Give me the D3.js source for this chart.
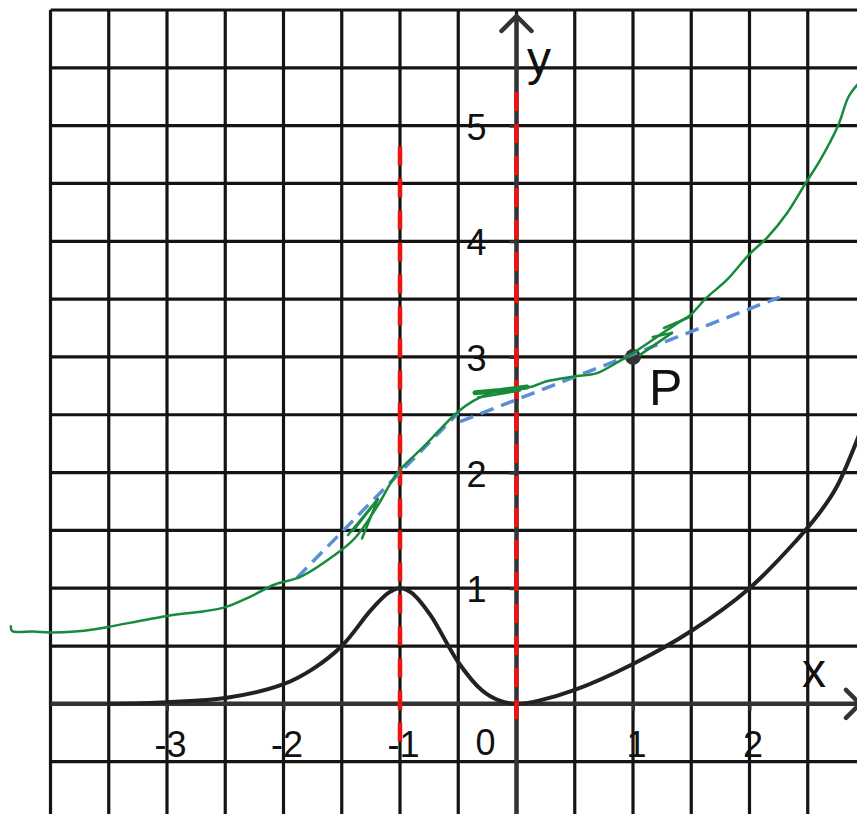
<!DOCTYPE html>
<html>
<head>
<meta charset="utf-8">
<script src="https://cdn.jsdelivr.net/npm/d3@7"></script>
<style>
  body { margin: 0; background: #fff; }
  svg { display: block; font-family: 'Liberation Sans', Arial, sans-serif; }
</style>
</head>
<body>
<svg width="857" height="814"></svg>
<script>
// values
const xTicks = [-3, -2, -1, 1, 2];
const yTicks = [1, 2, 3, 4, 5];

const blackCurve = [
  [-3.5, 0.0], [-3.0, 0.015], [-2.5, 0.05], [-2.0, 0.17], [-1.75, 0.3], [-1.5, 0.5],
  [-1.25, 0.81], [-1.1, 0.96], [-1.0, 1.0], [-0.9, 0.96], [-0.74, 0.77], [-0.5, 0.36],
  [-0.3, 0.12], [-0.15, 0.03], [0, 0], [0.2, 0.03], [0.5, 0.12], [1.0, 0.345],
  [1.5, 0.63], [2.0, 1.0], [2.4, 1.41], [2.6, 1.65], [2.75, 1.88], [2.95, 2.35]
];

const greenCurve = [
  [-4.34, 0.67], [-4.33, 0.63], [-4.15, 0.625], [-4.0, 0.617], [-3.79, 0.625], [-3.62, 0.645],
  [-3.48, 0.67], [-3.0, 0.76], [-2.52, 0.83], [-2.28, 0.93], [-2.08, 1.03], [-1.85, 1.1],
  [-1.57, 1.28], [-1.39, 1.43], [-1.2, 1.7], [-1.02, 2.0], [-0.79, 2.23], [-0.51, 2.52],
  [-0.37, 2.62], [-0.19, 2.70], [-0.02, 2.73], [0.12, 2.74], [0.26, 2.79], [0.49, 2.83],
  [0.69, 2.86], [0.86, 2.95], [0.98, 3.02], [1.26, 3.21], [1.41, 3.31], [1.49, 3.36],
  [1.63, 3.51], [1.81, 3.67], [2.0, 3.89], [2.15, 4.03], [2.32, 4.24], [2.48, 4.5],
  [2.605, 4.70], [2.76, 5.0], [2.85, 5.25], [2.93, 5.36]
];

// little hand-drawn arrow strokes along the green curve
const greenMarks = [
  [[-1.446, 1.46], [-1.19, 1.77]],
  [[-1.40, 1.50], [-1.19, 1.77]],
  [[-1.326, 1.43], [-1.19, 1.77]],
  [[-0.356, 2.69], [-0.142, 2.71], [0.09, 2.74]],
  [[-0.33, 2.65], [0.03, 2.71]],
  [[1.06, 3.018], [1.335, 3.208]],
  [[1.17, 3.173], [1.335, 3.208]],
  [[1.266, 3.25], [1.49, 3.346]]
];

const tangentLeft = [[-1.884, 1.09], [-0.5, 2.515]];
const tangentRight = [[-0.485, 2.44], [2.26, 3.518]];

const redLineX = [-1, 0];
const redLineTop = [4.82, 5.29];
const redLineBottom = [-0.4, -0.14];

const pointP = [1, 3];

let svg = d3.select('svg');
const W = +svg.attr('width'), H = +svg.attr('height');

let x = d3.scaleLinear().domain([-4, 3]).range([50.5, 866]),
    y = d3.scaleLinear().domain([-1, 6]).range([819.5, 10]);

const gridStep = 0.5;

// graph paper
let grid = svg.append('g').attr('stroke', '#141414').attr('stroke-width', 3.2);
grid.selectAll('.gv')
  .data(d3.range(-4, 3.001, gridStep))
  .enter().append('line')
    .attr('x1', d => x(d)).attr('x2', d => x(d))
    .attr('y1', y(6)).attr('y2', H);
grid.selectAll('.gh')
  .data(d3.range(-1, 6.001, gridStep))
  .enter().append('line')
    .attr('x1', x(-4)).attr('x2', W)
    .attr('y1', d => y(d)).attr('y2', d => y(d));

// axes
let axes = svg.append('g').attr('stroke', '#333').attr('stroke-width', 4.5).attr('fill', 'none');
axes.append('line').attr('x1', x(0)).attr('x2', x(0)).attr('y1', H).attr('y2', 16);
axes.append('line').attr('x1', x(-4)).attr('x2', 860).attr('y1', y(0)).attr('y2', y(0));
axes.append('path')
  .attr('stroke-linejoin', 'round').attr('stroke-linecap', 'round')
  .attr('d', `M${x(0) - 15},${31} L${x(0)},${16} L${x(0) + 15},${31}`);
axes.append('path')
  .attr('stroke-linejoin', 'round').attr('stroke-linecap', 'round')
  .attr('d', `M${846},${y(0) - 14} L${860},${y(0)} L${846},${y(0) + 14}`);

let xAxis = svg.append('g')
    .attr('transform', `translate(0, ${y(0)})`)
    .call(d3.axisBottom(x).tickValues(xTicks).tickSize(7).tickPadding(21).tickFormat(d => d < 0 ? '-' + Math.abs(d) : d));
let yAxis = svg.append('g')
    .attr('transform', `translate(${x(0)}, 0)`)
    .call(d3.axisLeft(y).tickValues(yTicks).tickSize(7).tickPadding(23).tickFormat(d3.format('d')));

[xAxis, yAxis].forEach(a => {
  a.select('.domain').remove();
  a.selectAll('.tick line').attr('stroke', '#333').attr('stroke-width', 3);
  a.selectAll('.tick text')
    .attr('fill', '#111')
    .style('font-size', '36px')
    .style('font-family', "'Liberation Sans', Arial, sans-serif");
});
xAxis.selectAll('.tick text').attr('dx', 3);
yAxis.selectAll('.tick text').attr('dy', '0.38em');

svg.append('text')
  .attr('x', x(0) - 31).attr('y', y(0) + 51)
  .attr('text-anchor', 'middle')
  .attr('fill', '#111').style('font-size', '36px')
  .text('0');

svg.append('text')
  .attr('x', 527).attr('y', 75)
  .attr('fill', '#111').style('font-size', '48px')
  .text('y');
svg.append('text')
  .attr('x', 802).attr('y', 687)
  .attr('fill', '#111').style('font-size', '48px')
  .text('x');

const line = d3.line()
    .x(d => x(d[0]))
    .y(d => y(d[1]));

// black function graph
svg.append('path')
  .attr('d', line.curve(d3.curveCatmullRom)(blackCurve))
  .attr('fill', 'none')
  .attr('stroke', '#222')
  .attr('stroke-width', 4)
  .attr('stroke-linecap', 'round');

// red dashed verticals
svg.selectAll('.red')
  .data(redLineX)
  .enter().append('line')
    .attr('x1', d => x(d)).attr('x2', d => x(d))
    .attr('y1', (d, i) => y(redLineTop[i]))
    .attr('y2', (d, i) => y(redLineBottom[i]))
    .attr('stroke', '#f21010')
    .attr('stroke-width', 4.5)
    .attr('stroke-dasharray', '19 13');

// point P
svg.append('circle')
  .attr('cx', x(pointP[0])).attr('cy', y(pointP[1]))
  .attr('r', 8)
  .attr('fill', '#333');
svg.append('text')
  .attr('x', x(pointP[0]) + 16).attr('y', y(pointP[1]) + 48)
  .attr('fill', '#111').style('font-size', '50px')
  .text('P');

// blue dashed tangents
svg.selectAll('.tangent')
  .data([tangentLeft, tangentRight])
  .enter().append('path')
    .attr('d', d => line.curve(d3.curveLinear)(d))
    .attr('fill', 'none')
    .attr('stroke', '#5a8fd8')
    .attr('stroke-width', 3.5)
    .attr('stroke-dasharray', '14 8');

// green hand drawn solution curve
svg.append('path')
  .attr('d', line.curve(d3.curveCatmullRom)(greenCurve))
  .attr('fill', 'none')
  .attr('stroke', '#178a3c')
  .attr('stroke-width', 2.5)
  .attr('stroke-linecap', 'round')
  .attr('stroke-linejoin', 'round');

svg.selectAll('.mark')
  .data(greenMarks)
  .enter().append('path')
    .attr('d', d => line.curve(d3.curveLinear)(d))
    .attr('fill', 'none')
    .attr('stroke', '#178a3c')
    .attr('stroke-width', (d, i) => i === 3 ? 5 : 2.5)
    .attr('stroke-linecap', 'round');
</script>
</body>
</html>
